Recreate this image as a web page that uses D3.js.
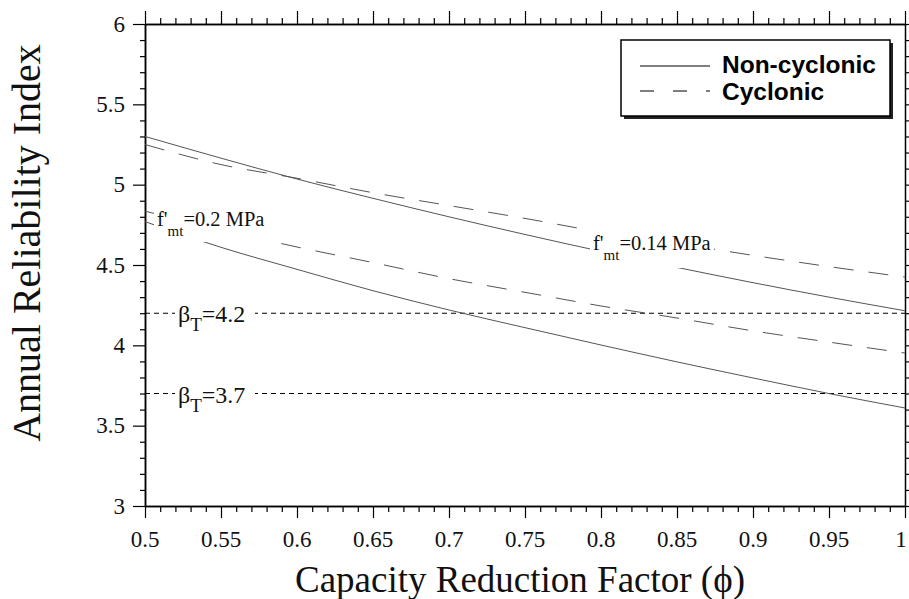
<!DOCTYPE html>
<html>
<head>
<meta charset="utf-8">
<script src="https://cdn.jsdelivr.net/npm/d3@7"></script>
<style>
  html, body { margin: 0; padding: 0; background: #fff; }
  svg { display: block; }
  .serif { font-family: "Liberation Serif", "Times New Roman", serif; }
  .sans { font-family: "Liberation Sans", Arial, sans-serif; }
</style>
</head>
<body>
<script>
// Capacity reduction factor values along the x axis
const phi = [0.5, 0.55, 0.6, 0.65, 0.7, 0.75, 0.8, 0.85, 0.9, 0.95, 1.0];

// Annual reliability index, f'mt = 0.14 MPa
const nonCyclonic014 = [5.30, 5.165, 5.035, 4.915, 4.80, 4.69, 4.585, 4.485, 4.39, 4.30, 4.215];
const cyclonic014    = [5.25, 5.125, 5.04, 4.95, 4.87, 4.79, 4.705, 4.635, 4.56, 4.49, 4.425];

// Annual reliability index, f'mt = 0.2 MPa
const nonCyclonic02 = [4.77, 4.61, 4.473, 4.34, 4.22, 4.11, 4.002, 3.897, 3.797, 3.70, 3.61];
const cyclonic02    = [4.835, 4.72, 4.612, 4.515, 4.415, 4.33, 4.245, 4.17, 4.09, 4.02, 3.952];

// Target reliability indices
const betaTargets = [4.2, 3.7];
const betaLabels = ["4.2", "3.7"];

// Tick values and labels
const xTickValues = [0.5, 0.55, 0.6, 0.65, 0.7, 0.75, 0.8, 0.85, 0.9, 0.95, 1.0];
const xTickLabels = ["0.5", "0.55", "0.6", "0.65", "0.7", "0.75", "0.8", "0.85", "0.9", "0.95", "1"];
const yTickValues = [3, 3.5, 4, 4.5, 5, 5.5, 6];
const yTickLabels = ["3", "3.5", "4", "4.5", "5", "5.5", "6"];

const legendNames = ["Non-cyclonic", "Cyclonic"];

const W = 909, H = 599;
const margin = { left: 145, right: 4, top: 24, bottom: 93 };
const x0 = margin.left, x1 = W - margin.right;
const y0 = margin.top, y1 = H - margin.bottom;

const svg = d3.select("body").append("svg").attr("width", W).attr("height", H);

const x = d3.scaleLinear().domain([0.5, 1.0]).range([x0, x1]);
const y = d3.scaleLinear().domain([3, 6]).range([y1, y0]);

const xMinor = d3.range(50, 101).map(i => i / 100).filter(v => Math.round(v * 100) % 5 !== 0);
const yMinor = d3.range(30, 61).map(i => i / 10).filter(v => Math.round(v * 10) % 5 !== 0);
const yAll = d3.range(30, 61).map(i => i / 10);

const axisStyle = g => {
  g.selectAll("path.domain").attr("stroke", "#000").attr("stroke-width", 1.5);
  g.selectAll(".tick line").attr("stroke", "#000").attr("stroke-width", 1.2);
  g.selectAll(".tick text").remove();
};

// bottom axis
svg.append("g").attr("transform", `translate(0,${y1})`)
  .call(d3.axisBottom(x).tickValues(xTickValues).tickSize(12).tickSizeOuter(0).tickFormat(""))
  .call(axisStyle);
svg.append("g").attr("transform", `translate(0,${y1})`)
  .call(d3.axisBottom(x).tickValues(xMinor).tickSize(6).tickSizeOuter(0).tickFormat(""))
  .call(axisStyle);
// top axis
svg.append("g").attr("transform", `translate(0,${y0})`)
  .call(d3.axisTop(x).tickValues(xTickValues).tickSize(13).tickSizeOuter(0).tickFormat(""))
  .call(axisStyle);
svg.append("g").attr("transform", `translate(0,${y0})`)
  .call(d3.axisTop(x).tickValues(xMinor).tickSize(6).tickSizeOuter(0).tickFormat(""))
  .call(axisStyle);
// left axis
svg.append("g").attr("transform", `translate(${x0},0)`)
  .call(d3.axisLeft(y).tickValues(yTickValues).tickSize(12).tickSizeOuter(0).tickFormat(""))
  .call(axisStyle);
svg.append("g").attr("transform", `translate(${x0},0)`)
  .call(d3.axisLeft(y).tickValues(yMinor).tickSize(5).tickSizeOuter(0).tickFormat(""))
  .call(axisStyle);
// right axis
svg.append("g").attr("transform", `translate(${x1},0)`)
  .call(d3.axisRight(y).tickValues(yAll).tickSize(8).tickSizeOuter(0).tickFormat(""))
  .call(axisStyle);

// tick labels
svg.append("g").selectAll("text").data(xTickValues).join("text")
  .attr("class", "serif")
  .attr("x", d => Math.min(x(d), W - 8)).attr("y", y1 + 41)
  .attr("text-anchor", "middle").attr("font-size", 23).attr("fill", "#111")
  .text((d, i) => xTickLabels[i]);
svg.append("g").selectAll("text").data(yTickValues).join("text")
  .attr("class", "serif")
  .attr("x", x0 - 20).attr("y", d => y(d) + 7.5)
  .attr("text-anchor", "end").attr("font-size", 23).attr("fill", "#111")
  .text((d, i) => yTickLabels[i]);

// axis titles
svg.append("text").attr("class", "serif")
  .attr("x", (x0 + x1) / 2 - 5).attr("y", 592)
  .attr("text-anchor", "middle").attr("font-size", 37).attr("fill", "#111")
  .text("Capacity Reduction Factor (\u03d5)");
svg.append("text").attr("class", "serif")
  .attr("transform", `translate(40,${(y0 + y1) / 2 - 22}) rotate(-90)`)
  .attr("text-anchor", "middle").attr("font-size", 40).attr("fill", "#111")
  .text("Annual Reliability Index");

// plot contents clipped to the frame
svg.append("clipPath").attr("id", "plot-clip")
  .append("rect").attr("x", x0).attr("y", y0).attr("width", x1 - x0).attr("height", y1 - y0);
const plot = svg.append("g").attr("clip-path", "url(#plot-clip)");

// target reliability lines
plot.selectAll("line.beta").data(betaTargets).join("line")
  .attr("class", "beta")
  .attr("x1", x0).attr("x2", x1)
  .attr("y1", d => y(d)).attr("y2", d => y(d))
  .attr("stroke", "#000").attr("stroke-width", 1.1).attr("stroke-dasharray", "5,4");

// reliability curves
const line = d3.line().x((d, i) => x(phi[i])).y(d => y(d)).curve(d3.curveMonotoneX);
const curves = [
  { values: nonCyclonic014, dash: null },
  { values: cyclonic014, dash: "20,15" },
  { values: nonCyclonic02, dash: null },
  { values: cyclonic02, dash: "20,15" }
];
plot.selectAll("path.curve").data(curves).join("path")
  .attr("class", "curve")
  .attr("d", d => line(d.values))
  .attr("fill", "none").attr("stroke", "#555").attr("stroke-width", 1)
  .attr("stroke-dasharray", d => d.dash);

// in-plot labels with white backing
function fmtLabel(px, py, value, boxW, boxH, boxDy) {
  const g = svg.append("g");
  g.append("rect").attr("x", px - 3).attr("y", py + boxDy).attr("width", boxW).attr("height", boxH).attr("fill", "#fff");
  const t = g.append("text").attr("class", "serif").attr("x", px).attr("y", py).attr("fill", "#111").attr("font-size", 20.5);
  t.append("tspan").text("f'");
  t.append("tspan").attr("font-size", 15).attr("dy", 10).text("mt");
  t.append("tspan").attr("dy", -10).text("=" + value + " MPa");
}
fmtLabel(157, 226, "0.2", 118, 37, -21);
fmtLabel(593, 250, "0.14", 124, 39, -21);

betaTargets.forEach((b, i) => {
  const by = y(b);
  const g = svg.append("g");
  g.append("rect").attr("x", 175).attr("y", by - 12).attr("width", 80).attr("height", 26).attr("fill", "#fff");
  const t = g.append("text").attr("class", "serif").attr("x", 178).attr("y", by + 9).attr("fill", "#111").attr("font-size", 24);
  t.append("tspan").text("\u03b2");
  t.append("tspan").attr("font-size", 19).attr("dy", 9).text("T");
  t.append("tspan").attr("dy", -9).text("=" + betaLabels[i]);
});

// legend
const lg = svg.append("g");
lg.append("rect").attr("x", 624).attr("y", 43).attr("width", 269).attr("height", 76).attr("fill", "#222");
lg.append("rect").attr("x", 621).attr("y", 40).attr("width", 269).attr("height", 76)
  .attr("fill", "#fff").attr("stroke", "#000").attr("stroke-width", 1.5);
legendNames.forEach((name, i) => {
  const ly = 66 + i * 25;
  lg.append("line").attr("x1", 640).attr("x2", 710).attr("y1", ly).attr("y2", ly)
    .attr("stroke", "#000").attr("stroke-width", 1.2)
    .attr("stroke-dasharray", i === 1 ? "14,19" : null);
  lg.append("text").attr("class", "sans")
    .attr("x", 722).attr("y", 73 + i * 26.5)
    .attr("font-size", 24.5).attr("font-weight", "bold").attr("fill", "#000")
    .text(name);
});
</script>
</body>
</html>
